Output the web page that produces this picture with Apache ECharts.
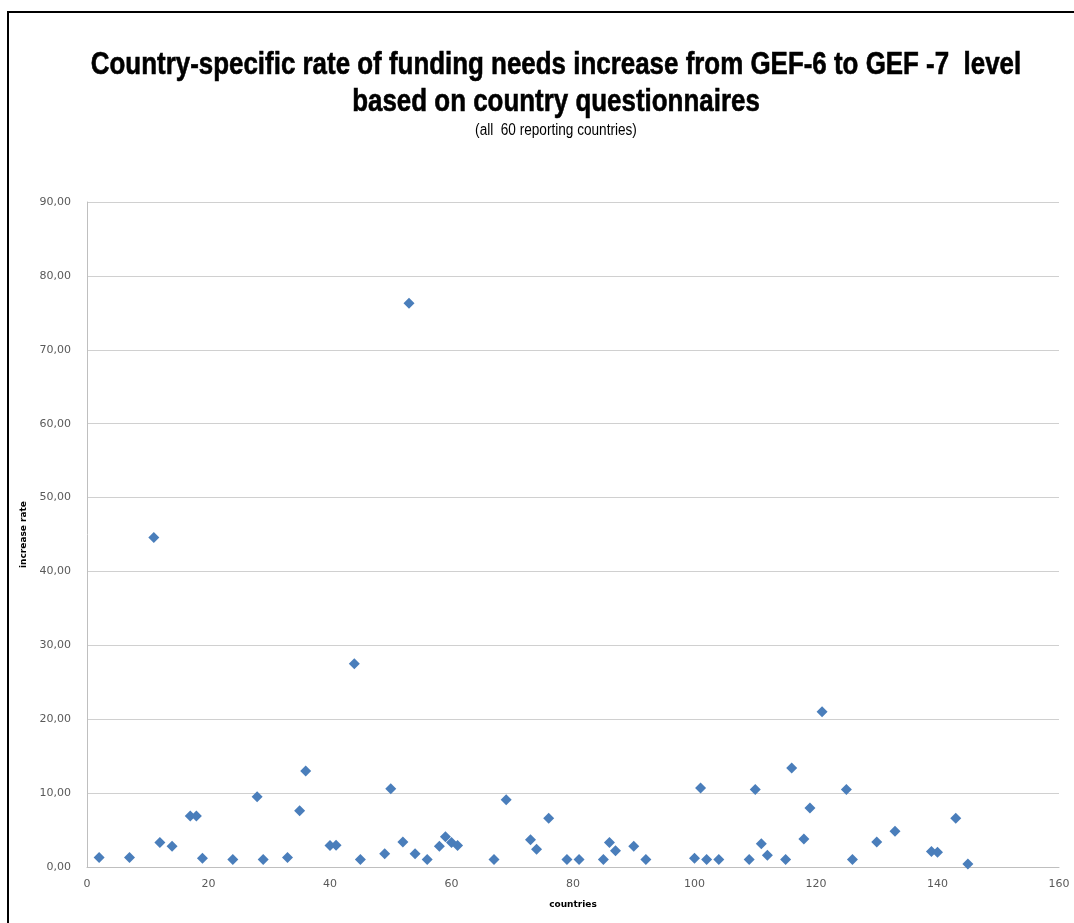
<!DOCTYPE html>
<html>
<head>
<meta charset="utf-8">
<script src="https://cdn.jsdelivr.net/npm/echarts@6/dist/echarts.min.js"></script>
<style>
html,body{margin:0;padding:0;background:#fff;}
#c{width:1074px;height:923px;}
</style>
</head>
<body>
<div id="c"></div>
<script>
const titleLine1 = 'Country-specific rate of funding needs increase from GEF-6 to GEF -7  level';
const titleLine2 = 'based on country questionnaires';
const subtitleText = '(all  60 reporting countries)';
const xAxisName = 'countries';
const yAxisName = 'increase rate';
const countryIndex = [2,7,11,12,14,17,18,19,24,28,29,33,35,36,40,41,44,45,49,50,52,
  53,54,56,58,59,60,61,67,69,73,74,76,79,81,85,86,87,90,92,100,101,102,104,
  109,110,111,112,115,116,118,119,121,125,126,130,133,139,140,143,145];
const increaseRate = [1.3,1.3,44.6,3.3,2.8,6.9,6.9,1.2,1.0,9.5,1.0,1.3,7.6,13.0,2.9,2.95,27.5,1.0,1.8,10.6,3.4,
  76.3,1.8,1.0,2.8,4.1,3.3,2.9,1.0,9.1,3.7,2.4,6.6,1.0,1.0,1.0,3.3,2.2,2.8,1.0,1.2,10.7,1.0,1.0,
  1.0,10.5,3.15,1.6,1.0,13.4,3.8,8.0,21.0,10.5,1.0,3.4,4.85,2.1,2.0,6.6,0.4];

const chart = echarts.init(document.getElementById('c'));
const fmt = v => v.toFixed(2).replace('.', ',');
const titleFont = 'bold 32px "Liberation Sans", Arial, sans-serif';
chart.setOption({
  backgroundColor: '#fff',
  animation: false,
  graphic: [{
    type: 'rect', shape: {x: 8, y: 12, width: 1200, height: 1000},
    style: {fill: 'none', stroke: '#000', lineWidth: 2}, silent: true
  },{
    type: 'text', x: 556, y: 65, scaleX: 0.81, silent: true,
    style: {text: titleLine1, font: titleFont, fill: '#000', stroke: '#000', lineWidth: 0.6, textAlign: 'center', textVerticalAlign: 'middle'}
  },{
    type: 'text', x: 556, y: 102, scaleX: 0.81, silent: true,
    style: {text: titleLine2, font: titleFont, fill: '#000', stroke: '#000', lineWidth: 0.6, textAlign: 'center', textVerticalAlign: 'middle'}
  },{
    type: 'text', x: 556, y: 131, scaleX: 0.85, silent: true,
    style: {text: subtitleText, font: '16px "Liberation Sans", Arial, sans-serif', fill: '#000', textAlign: 'center', textVerticalAlign: 'middle'}
  }],
  grid: {left: 87, right: 15, top: 202, bottom: 56, containLabel: false},
  xAxis: {
    type: 'value', min: 0, max: 160, interval: 20,
    name: xAxisName, nameLocation: 'middle', nameGap: 33,
    nameTextStyle: {fontFamily: '"DejaVu Sans", sans-serif', fontWeight: 'bold', fontSize: 9, color: '#000'},
    axisLine: {show: true, lineStyle: {color: '#bfbfbf', width: 1}},
    axisTick: {show: false},
    splitLine: {show: false},
    axisLabel: {color: '#595959', fontSize: 11, fontFamily: '"DejaVu Sans", sans-serif', margin: 12}
  },
  yAxis: {
    type: 'value', min: 0, max: 90, interval: 10,
    name: yAxisName, nameLocation: 'middle', nameGap: 40, nameRotate: 90,
    nameTextStyle: {fontFamily: '"DejaVu Sans", sans-serif', fontWeight: 'bold', fontSize: 9, color: '#000'},
    axisLine: {show: true, lineStyle: {color: '#bfbfbf', width: 1}},
    axisTick: {show: false},
    splitLine: {show: true, lineStyle: {color: '#d0d0d0', width: 1}},
    axisLabel: {color: '#595959', fontSize: 11, fontFamily: '"DejaVu Sans", sans-serif', margin: 16, formatter: fmt}
  },
  series: [{
    type: 'scatter',
    symbol: 'diamond',
    symbolSize: 11,
    itemStyle: {color: '#4A7EBB', opacity: 1},
    data: countryIndex.map((x, i) => [x, increaseRate[i]])
  }]
});
</script>
</body>
</html>
